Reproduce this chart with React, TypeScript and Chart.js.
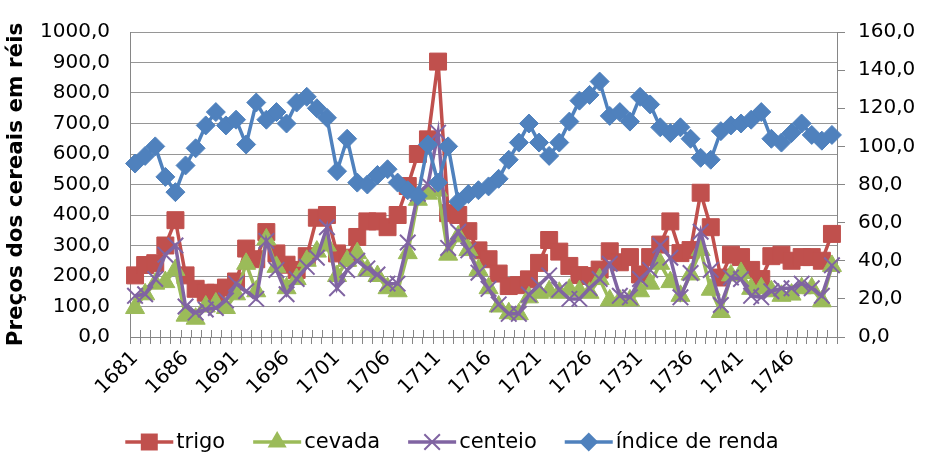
import React, { useEffect, useRef } from 'react';
import { Chart, registerables } from 'chart.js';

Chart.register(...registerables);

const years = [
  '1681', '1682', '1683', '1684', '1685', '1686', '1687', '1688', '1689', '1690',
  '1691', '1692', '1693', '1694', '1695', '1696', '1697', '1698', '1699', '1700',
  '1701', '1702', '1703', '1704', '1705', '1706', '1707', '1708', '1709', '1710',
  '1711', '1712', '1713', '1714', '1715', '1716', '1717', '1718', '1719', '1720',
  '1721', '1722', '1723', '1724', '1725', '1726', '1727', '1728', '1729', '1730',
  '1731', '1732', '1733', '1734', '1735', '1736', '1737', '1738', '1739', '1740',
  '1741', '1742', '1743', '1744', '1745', '1746', '1747', '1748', '1749', '1750',
];

const shownYears = ['1681', '1686', '1691', '1696', '1701', '1706', '1711', '1716', '1721', '1726', '1731', '1736', '1741', '1746'];

const trigo = [
  202, 236, 242, 300, 383, 202, 158, 145, 145, 162,
  182, 290, 255, 344, 274, 237, 220, 265, 391, 400,
  274, 260, 328, 379, 379, 360, 400, 495, 600, 648,
  903, 406, 400, 347, 284, 255, 208, 167, 170, 189,
  243, 318, 280, 233, 203, 200, 221, 281, 245, 262,
  205, 262, 303, 379, 275, 285, 473, 360, 195, 270,
  262, 220, 190, 265, 270, 250, 262, 262, 250, 338,
];

const cevada = [
  95, 140, 175, 180, 220, 70, 60, 100, 110, 95,
  140, 240, 150, 320, 230, 160, 190, 250, 280, 300,
  200, 250, 275, 220, 200, 160, 150, 275, 450, 470,
  480, 270, 330, 285, 220, 160, 100, 78, 75, 130,
  145, 150, 145, 155, 150, 145, 190, 120, 120, 120,
  150, 175, 240, 180, 135, 205, 285, 155, 82, 202,
  210, 158, 160, 150, 135, 139, 160, 160, 117, 233,
];

const centeio = [
  135, 140, 190, 270, 300, 100, 80, 90, 95, 120,
  175, 150, 125, 315, 220, 140, 190, 230, 260, 360,
  160, 220, 250, 225, 205, 175, 175, 310, 470, 500,
  670, 292, 345, 284, 211, 158, 107, 76, 76, 139,
  170, 202, 155, 125, 125, 160, 190, 240, 135, 130,
  190, 220, 300, 260, 130, 210, 345, 220, 105, 195,
  190, 135, 130, 150, 160, 160, 175, 160, 135, 235,
];

const indiceRenda = [
  91, 95, 100, 84, 76, 90, 99, 111, 118, 111,
  114, 101, 123, 114, 118, 112, 123, 126, 120, 115,
  87, 104, 81, 80, 85, 88, 81, 77, 74, 101,
  81, 100, 71, 75, 77, 79, 83, 93, 102, 112,
  102, 95, 102, 113, 124, 127, 134, 116, 118, 113,
  126, 122, 110, 107, 110, 104, 94, 93, 108, 111,
  112, 114, 118, 104, 102, 107, 112, 106, 103, 106,
];

const FONT = "'DejaVu Sans', 'Liberation Sans', sans-serif";
const AXIS = '#868686';
const GRID = '#969696';
const RED = '#C0504D';
const GREEN = '#9BBB59';
const PURPLE = '#8064A2';
const BLUE = '#4F81BD';

function drawMarker(ctx: CanvasRenderingContext2D, style: string, x: number, y: number, r: number, color: string) {
  ctx.save();
  ctx.fillStyle = color;
  ctx.strokeStyle = color;
  ctx.lineWidth = 1;
  ctx.beginPath();
  if (style === 'rect') {
    const s = r * Math.SQRT1_2;
    ctx.rect(x - s, y - s, 2 * s, 2 * s);
    ctx.fill();
  } else if (style === 'triangle') {
    let a = 0;
    ctx.moveTo(x + Math.sin(a) * r, y - Math.cos(a) * r);
    a += (2 * Math.PI) / 3;
    ctx.lineTo(x + Math.sin(a) * r, y - Math.cos(a) * r);
    a += (2 * Math.PI) / 3;
    ctx.lineTo(x + Math.sin(a) * r, y - Math.cos(a) * r);
    ctx.closePath();
    ctx.fill();
  } else if (style === 'crossRot') {
    const d = r * Math.SQRT1_2;
    ctx.lineWidth = 2;
    ctx.moveTo(x - d, y - d);
    ctx.lineTo(x + d, y + d);
    ctx.moveTo(x + d, y - d);
    ctx.lineTo(x - d, y + d);
    ctx.stroke();
  } else {
    ctx.moveTo(x, y - r);
    ctx.lineTo(x + r, y);
    ctx.lineTo(x, y + r);
    ctx.lineTo(x - r, y);
    ctx.closePath();
    ctx.fill();
  }
  ctx.restore();
}

const excelExtras = {
  id: 'excelExtras',
  beforeDatasetsDraw(chart: any) {
    const { ctx, chartArea, scales } = chart;
    const xs = scales.x;
    const n = years.length;
    const w = (chartArea.right - chartArea.left) / n;
    ctx.save();
    ctx.strokeStyle = AXIS;
    ctx.lineWidth = 1;
    ctx.beginPath();
    for (let i = 0; i <= n; i++) {
      const px = Math.round(xs.getPixelForValue(i) - w / 2) + 0.5;
      ctx.moveTo(px, chartArea.bottom - 7);
      ctx.lineTo(px, chartArea.bottom);
    }
    ctx.stroke();
    ctx.restore();
  },
  afterDraw(chart: any) {
    const ctx: CanvasRenderingContext2D = chart.ctx;
    const { chartArea, scales } = chart;
    const xs = scales.x;

    // category labels, rotated 45 degrees, ending at their category
    ctx.save();
    ctx.font = `20px ${FONT}`;
    ctx.fillStyle = '#000';
    ctx.textAlign = 'right';
    ctx.textBaseline = 'middle';
    chart.data.labels.forEach((lab: string, i: number) => {
      if (!shownYears.includes(lab)) return;
      const px = xs.getPixelForValue(i);
      ctx.save();
      ctx.translate(px, chartArea.bottom + 18);
      ctx.rotate(-Math.PI / 4);
      ctx.fillText(lab, 0, 0);
      ctx.restore();
    });
    ctx.restore();

    // legend: line + marker + text, Excel style
    ctx.save();
    ctx.font = `21px ${FONT}`;
    ctx.textBaseline = 'middle';
    ctx.textAlign = 'left';
    const items = chart.data.datasets.map((ds: any) => ({
      text: ds.label as string,
      w: ctx.measureText(ds.label).width,
      color: ds.borderColor as string,
      style: ds.pointStyle as string,
      r: ds.pointRadius as number,
    }));
    const lineLen = 48;
    const gapText = 3;
    const gapItem = 28;
    const total = items.reduce((s: number, it: any) => s + lineLen + gapText + it.w, 0) + gapItem * (items.length - 1);
    let x = 452 - total / 2;
    const y = 442;
    for (const it of items) {
      ctx.strokeStyle = it.color;
      ctx.lineWidth = 3.5;
      ctx.beginPath();
      ctx.moveTo(x, y);
      ctx.lineTo(x + lineLen, y);
      ctx.stroke();
      drawMarker(ctx, it.style, x + lineLen / 2, y, it.r, it.color);
      ctx.fillStyle = '#000';
      ctx.fillText(it.text, x + lineLen + gapText, y + 1);
      x += lineLen + gapText + it.w + gapItem;
    }
    ctx.restore();
  },
};

const fmt = (v: any) => Number(v).toFixed(1).replace('.', ',');

export default function App() {
  const ref = useRef<HTMLCanvasElement | null>(null);

  useEffect(() => {
    document.body.style.margin = '0';
    const canvas = ref.current;
    if (!canvas) return;
    const common = {
      borderWidth: 3.5,
      pointBorderWidth: 1,
      tension: 0,
      fill: false,
    };
    const chart = new Chart(canvas, {
      type: 'line',
      data: {
        labels: years,
        datasets: [
          {
            ...common,
            label: 'trigo',
            data: trigo,
            borderColor: RED,
            backgroundColor: RED,
            pointBackgroundColor: RED,
            pointBorderColor: RED,
            pointStyle: 'rect',
            pointRadius: 12,
            yAxisID: 'y',
            order: 4,
          },
          {
            ...common,
            label: 'cevada',
            data: cevada,
            borderColor: GREEN,
            backgroundColor: GREEN,
            pointBackgroundColor: GREEN,
            pointBorderColor: GREEN,
            pointStyle: 'triangle',
            pointRadius: 11,
            yAxisID: 'y',
            order: 3,
          },
          {
            ...common,
            label: 'centeio',
            data: centeio,
            borderColor: PURPLE,
            backgroundColor: PURPLE,
            pointBackgroundColor: PURPLE,
            pointBorderColor: PURPLE,
            pointBorderWidth: 2,
            pointStyle: 'crossRot',
            pointRadius: 11,
            yAxisID: 'y',
            order: 2,
          },
          {
            ...common,
            label: 'índice de renda',
            data: indiceRenda,
            borderColor: BLUE,
            backgroundColor: BLUE,
            pointBackgroundColor: BLUE,
            pointBorderColor: BLUE,
            pointStyle: 'rectRot',
            pointRadius: 9.5,
            yAxisID: 'y1',
            order: 1,
          },
        ],
      },
      options: {
        responsive: false,
        animation: false,
        devicePixelRatio: 1,
        layout: { padding: { top: 20, left: 0, right: 0, bottom: 42 } },
        plugins: {
          legend: { display: false },
          tooltip: { enabled: false },
        },
        scales: {
          x: {
            type: 'category',
            offset: true,
            afterFit: (s: any) => { s.height = 80; },
            grid: {
              offset: true,
              drawOnChartArea: false,
              drawTicks: true,
              tickLength: 7,
              color: AXIS,
            },
            border: { display: true, color: AXIS, width: 1 },
            ticks: {
              display: false,
              autoSkip: false,
            },
          },
          y: {
            position: 'left',
            min: 0,
            max: 1000,
            afterFit: (s: any) => { s.width = 130; },
            grid: { color: GRID, drawTicks: false, lineWidth: 1 },
            border: { display: true, color: AXIS, width: 1 },
            ticks: {
              stepSize: 100,
              padding: 20,
              color: '#000',
              font: { family: FONT, size: 20 },
              callback: fmt,
            },
            title: {
              display: true,
              text: 'Preços dos cereais em réis',
              color: '#000',
              font: { family: FONT, size: 21.5, weight: 'bold' },
              padding: { top: 4, bottom: 0 },
            },
          },
          y1: {
            position: 'right',
            min: 0,
            max: 160,
            afterFit: (s: any) => { s.width = 89; },
            grid: { drawOnChartArea: false, drawTicks: true, tickLength: 8, color: AXIS },
            border: { display: true, color: AXIS, width: 1 },
            ticks: {
              stepSize: 20,
              padding: 13,
              color: '#000',
              font: { family: FONT, size: 20 },
              callback: fmt,
            },
          },
        },
      } as any,
      plugins: [excelExtras],
    });
    return () => chart.destroy();
  }, []);

  return (
    <div style={{ position: 'absolute', left: 0, top: 0, width: 926, height: 459, background: '#fff' }}>
      <canvas ref={ref} width={926} height={459} style={{ display: 'block', width: 926, height: 459 }} />
    </div>
  );
}
